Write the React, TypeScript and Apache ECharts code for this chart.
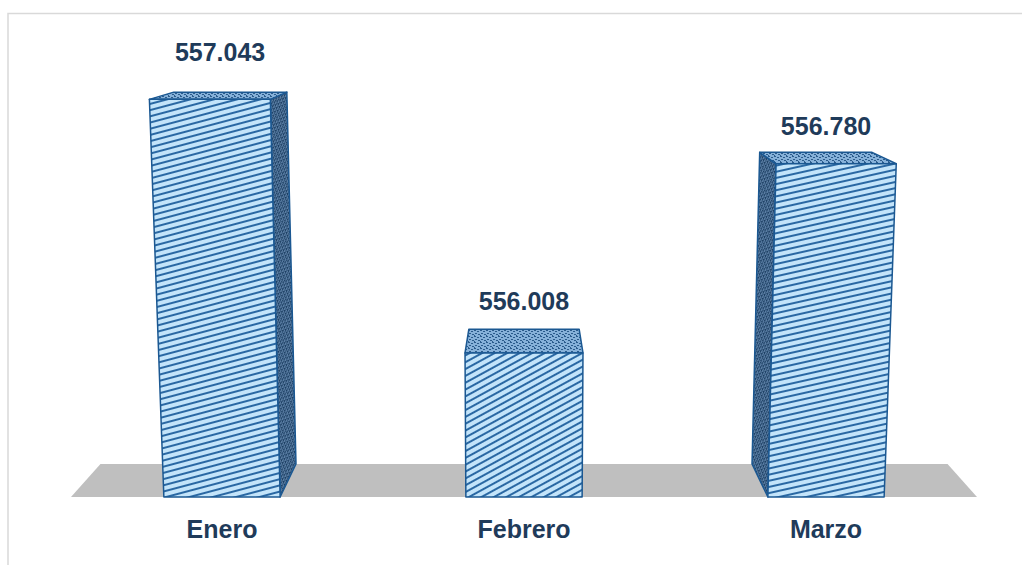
import React, { useEffect, useRef } from "react";
import * as echarts from "echarts";

const categories = ["Enero", "Febrero", "Marzo"];
const values = [557.043, 556.008, 556.78];
const valueLabels = ["557.043", "556.008", "556.780"];
const yMin = 555.42;
const yMax = 557.22;

const stripeAngles = [-0.26, -0.5, -0.22];
const labelExtra = [14, 2, 0];

const TEXT = "#1f3b5a";
const EDGE = "#1b5892";
const FONT = 'bold 25px "Liberation Sans", Arial, sans-serif';

function makeCanvas(w: number, h: number, draw: (ctx: CanvasRenderingContext2D) => void) {
  const c = document.createElement("canvas");
  c.width = w;
  c.height = h;
  const ctx = c.getContext("2d") as CanvasRenderingContext2D;
  draw(ctx);
  return c;
}

export default function App() {
  const ref = useRef<HTMLDivElement>(null);
  useEffect(() => {
    document.body.style.margin = "0";
    const frontTile = makeCanvas(6, 6, (ctx) => {
      ctx.fillStyle = "#c3e4fa";
      ctx.fillRect(0, 0, 6, 6);
      ctx.fillStyle = "#2a68a3";
      ctx.fillRect(0, 0, 6, 2);
    });
    const sideTile = makeCanvas(3, 3, (ctx) => {
      ctx.fillStyle = "#5b7fa5";
      ctx.fillRect(0, 0, 3, 3);
      ctx.fillStyle = "#1d3f63";
      ctx.fillRect(0, 0, 1, 1);
      ctx.fillRect(1, 1, 1, 1);
      ctx.fillRect(2, 2, 1, 1);
      ctx.fillRect(2, 0, 1, 1);
    });
    const topTile = makeCanvas(6, 6, (ctx) => {
      ctx.fillStyle = "#86b1d9";
      ctx.fillRect(0, 0, 6, 6);
      ctx.fillStyle = "#2b5b8b";
      ctx.fillRect(0, 0, 2, 1);
      ctx.fillRect(3, 1, 2, 1);
      ctx.fillRect(1, 3, 2, 1);
      ctx.fillRect(4, 4, 2, 1);
      ctx.fillRect(0, 5, 1, 1);
    });

    const chart = echarts.init(ref.current as HTMLDivElement, null, { renderer: "svg" });
    const option: any = {
      animation: false,
      backgroundColor: "#ffffff",
      graphic: [
        {
          type: "polyline",
          shape: { points: [[8, 565], [8, 13.5], [1022, 13.5]] },
          style: { stroke: "#d9d9d9", lineWidth: 1.5, fill: "none" },
          silent: true,
        },
      ],
      grid: { left: 71, width: 906, top: 56, height: 441 },
      xAxis: {
        type: "category",
        data: categories,
        axisLine: { show: false },
        axisTick: { show: false },
        axisLabel: {
          color: TEXT,
          fontSize: 25,
          fontWeight: "bold",
          fontFamily: '"Liberation Sans", Arial, sans-serif',
          margin: 19,
        },
      },
      yAxis: { type: "value", min: yMin, max: yMax, show: false, splitLine: { show: false } },
      series: [
        {
          type: "custom",
          z: 1,
          data: [[0, yMin]],
          encode: { x: 0, y: 1 },
          renderItem: (params: any) => {
            const cs = params.coordSys;
            const vpx = cs.x + cs.width / 2;
            const vpy = cs.y - 68;
            const yb = cs.y + cs.height;
            const k = 0.935;
            const back = (p: number[]) => [vpx + (p[0] - vpx) * k, vpy + (p[1] - vpy) * k];
            const a = [cs.x, yb];
            const b = [cs.x + cs.width, yb];
            return {
              type: "polygon",
              shape: { points: [a, b, back(b), back(a)] },
              style: { fill: "#bfbfbf" },
            };
          },
        },
        {
          type: "custom",
          z: 2,
          data: values.map((v, i) => [i, v]),
          encode: { x: 0, y: 1 },
          renderItem: (params: any, api: any) => {
            const cs = params.coordSys;
            const vpx = cs.x + cs.width / 2;
            const vpy = cs.y - 68;
            const yb = cs.y + cs.height;
            const k = 0.935;
            const conv = 9900;
            const idx = api.value(0);
            const topPt = api.coord([idx, api.value(1)]);
            const bw = api.size([1, 0])[0] * 0.385;
            const cx = topPt[0];
            const yt = topPt[1];
            const sx = (x: number, y: number) => vpx + (x - vpx) * (1 + (yb - y) / conv);
            const back = (p: number[]) => [vpx + (p[0] - vpx) * k, vpy + (p[1] - vpy) * k];
            const tl = [sx(cx - bw / 2, yt), yt];
            const tr = [sx(cx + bw / 2, yt), yt];
            const br = [cx + bw / 2, yb];
            const bl = [cx - bw / 2, yb];
            const children: any[] = [];
            const edge = { stroke: EDGE, lineWidth: 1.5, lineJoin: "round" };
            if (br[0] < vpx) {
              children.push({
                type: "polygon",
                shape: { points: [tr, back(tr), back(br), br] },
                style: { fill: { image: sideTile, repeat: "repeat", rotation: 1.2 }, ...edge },
              });
            }
            if (bl[0] > vpx) {
              children.push({
                type: "polygon",
                shape: { points: [tl, back(tl), back(bl), bl] },
                style: { fill: { image: sideTile, repeat: "repeat", rotation: 1.2 }, ...edge },
              });
            }
            children.push({
              type: "polygon",
              shape: { points: [tl, tr, back(tr), back(tl)] },
              style: { fill: { image: topTile, repeat: "repeat" }, ...edge },
            });
            children.push({
              type: "polygon",
              shape: { points: [tl, tr, br, bl] },
              style: {
                fill: { image: frontTile, repeat: "repeat", rotation: stripeAngles[idx] },
                ...edge,
              },
            });
            const btl = back(tl);
            const btr = back(tr);
            const lx = (tl[0] + tr[0] + btl[0] + btr[0]) / 4;
            children.push({
              type: "text",
              style: {
                text: valueLabels[idx],
                x: lx,
                y: btl[1] - 14 - labelExtra[idx],
                align: "center",
                verticalAlign: "bottom",
                fill: TEXT,
                font: FONT,
              },
            });
            return { type: "group", children };
          },
        },
      ],
    };
    chart.setOption(option);
    return () => chart.dispose();
  }, []);
  return <div ref={ref} style={{ width: 1022, height: 565 }} />;
}
